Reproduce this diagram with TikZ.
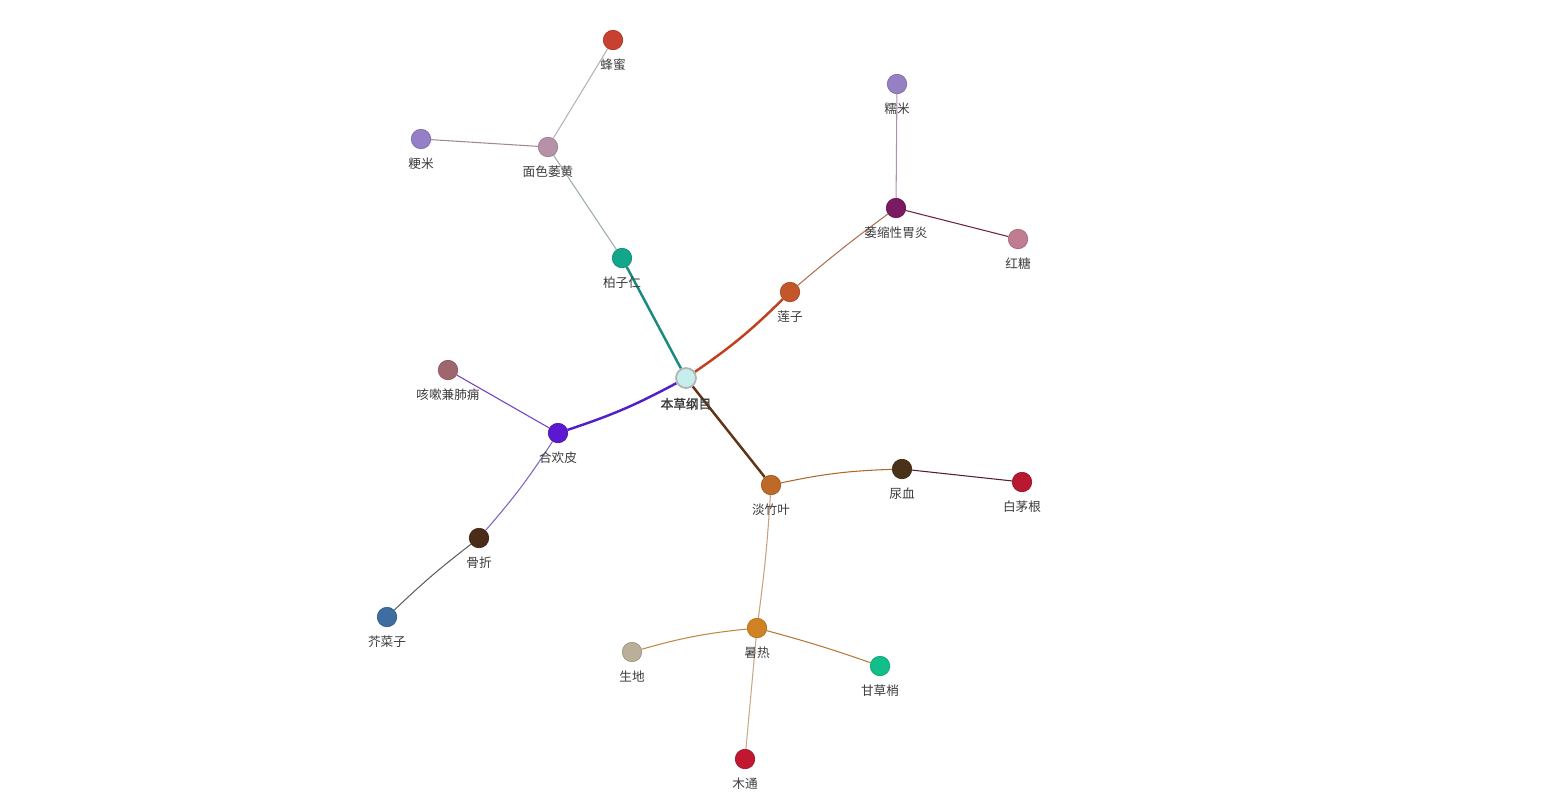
\documentclass[tikz,border=0pt]{standalone}
\usepackage{fontspec}
\newfontfamily\cjk[AutoFakeBold=1.5]{Noto Sans CJK SC}
\usetikzlibrary{positioning, backgrounds}
\definecolor{labelgray}{RGB}{60,60,60}
\definecolor{bencao}{RGB}{198,238,236}
\definecolor{baiziren}{RGB}{18,166,138}
\definecolor{mianse}{RGB}{181,146,168}
\definecolor{fengmi}{RGB}{200,64,48}
\definecolor{jingmi}{RGB}{149,128,200}
\definecolor{lianzi}{RGB}{196,87,42}
\definecolor{weisuo}{RGB}{122,26,96}
\definecolor{nuomi}{RGB}{149,128,196}
\definecolor{hongtang}{RGB}{192,124,144}
\definecolor{hehuanpi}{RGB}{92,24,208}
\definecolor{kesou}{RGB}{160,102,112}
\definecolor{guzhe}{RGB}{74,44,24}
\definecolor{jiecaizi}{RGB}{62,110,160}
\definecolor{danzhuye}{RGB}{189,106,40}
\definecolor{niaoxue}{RGB}{74,50,24}
\definecolor{baimaogen}{RGB}{184,24,48}
\definecolor{shure}{RGB}{208,130,36}
\definecolor{shengdi}{RGB}{186,176,154}
\definecolor{gancaoshao}{RGB}{18,190,138}
\definecolor{mutong}{RGB}{192,24,48}

\begin{document}
\begin{tikzpicture}[x=0.02cm, y=-0.02cm,
  herb/.style={circle, draw=#1!85!black, fill=#1, line width=0.4pt, minimum size=0.39cm, inner sep=0pt},
  lbl/.style={font=\cjk\fontsize{7.2}{8}\selectfont, text=labelgray, inner sep=0pt, label distance=5pt},
  link/.style={line width=0.6pt},
  trunk/.style={line width=1.4pt}]
  \useasboundingbox (0,0) rectangle (1545,802);

  % root
  \node[circle, draw=gray!60, fill=bencao, line width=1pt, minimum size=0.4cm, inner sep=0pt,
    label={[lbl, font=\cjk\fontsize{7.2}{8}\selectfont\bfseries]below:本草纲目}] (bencao) at (686,378) {};

  % upper left branch
  \node[herb=baiziren, label={[lbl]below:柏子仁}] (baiziren) at (622,258) {};
  \node[herb=mianse, label={[lbl]below:面色萎黄}] (mianse) at (548,147) {};
  \node[herb=fengmi, label={[lbl]below:蜂蜜}] (fengmi) at (613,40) {};
  \node[herb=jingmi, label={[lbl]below:粳米}] (jingmi) at (421,139) {};

  % upper right branch
  \node[herb=lianzi, label={[lbl]below:莲子}] (lianzi) at (790,292) {};
  \node[herb=weisuo, label={[lbl]below:萎缩性胃炎}] (weisuo) at (896,208) {};
  \node[herb=nuomi, label={[lbl]below:糯米}] (nuomi) at (897,84) {};
  \node[herb=hongtang, label={[lbl]below:红糖}] (hongtang) at (1018,239) {};

  % left branch
  \node[herb=hehuanpi, label={[lbl]below:合欢皮}] (hehuanpi) at (558,433) {};
  \node[herb=kesou, label={[lbl]below:咳嗽兼肺痈}] (kesou) at (448,370) {};
  \node[herb=guzhe, label={[lbl]below:骨折}] (guzhe) at (479,538) {};
  \node[herb=jiecaizi, label={[lbl]below:芥菜子}] (jiecaizi) at (387,617) {};

  % lower branch
  \node[herb=danzhuye, label={[lbl]below:淡竹叶}] (danzhuye) at (771,485) {};
  \node[herb=niaoxue, label={[lbl]below:尿血}] (niaoxue) at (902,469) {};
  \node[herb=baimaogen, label={[lbl]below:白茅根}] (baimaogen) at (1022,482) {};
  \node[herb=shure, label={[lbl]below:暑热}] (shure) at (757,628) {};
  \node[herb=shengdi, label={[lbl]below:生地}] (shengdi) at (632,652) {};
  \node[herb=gancaoshao, label={[lbl]below:甘草梢}] (gancaoshao) at (880,666) {};
  \node[herb=mutong, label={[lbl]below:木通}] (mutong) at (745,759) {};

  \begin{scope}[on background layer]
    \draw[trunk, color={rgb,255:red,26;green,138;blue,128}] (bencao) -- (baiziren);
    \draw[trunk, color={rgb,255:red,192;green,64;blue,32}] (bencao) to[bend right=5] (lianzi);
    \draw[trunk, color={rgb,255:red,80;green,32;blue,200}] (bencao) to[bend left=5] (hehuanpi);
    \draw[trunk, color={rgb,255:red,96;green,52;blue,20}] (bencao) -- (danzhuye);

    \draw[link, color={rgb,255:red,154;green,172;blue,176}] (baiziren) -- (mianse);
    \draw[link, color={rgb,255:red,184;green,176;blue,184}] (mianse) -- (fengmi);
    \draw[link, color={rgb,255:red,160;green,136;blue,144}] (mianse) -- (jingmi);

    \draw[link, color={rgb,255:red,176;green,112;blue,80}] (lianzi) to[bend left=2] (weisuo);
    \draw[link, color={rgb,255:red,176;green,144;blue,176}] (weisuo) -- (nuomi);
    \draw[link, color={rgb,255:red,112;green,32;blue,64}] (weisuo) -- (hongtang);

    \draw[link, color={rgb,255:red,112;green,64;blue,192}] (hehuanpi) -- (kesou);
    \draw[link, color={rgb,255:red,128;green,96;blue,192}] (hehuanpi) to[bend left=4] (guzhe);
    \draw[link, color={rgb,255:red,96;green,96;blue,96}] (guzhe) to[bend right=3] (jiecaizi);

    \draw[link, color={rgb,255:red,176;green,104;blue,40}] (danzhuye) to[bend left=5] (niaoxue);
    \draw[link, color={rgb,255:red,80;green,32;blue,40}] (niaoxue) -- (baimaogen);
    \draw[link, color={rgb,255:red,200;green,160;blue,128}] (danzhuye) to[bend left=2] (shure);
    \draw[link, color={rgb,255:red,192;green,136;blue,64}] (shure) to[bend right=5] (shengdi);
    \draw[link, color={rgb,255:red,184;green,120;blue,56}] (shure) to[bend left=2] (gancaoshao);
    \draw[link, color={rgb,255:red,200;green,168;blue,136}] (shure) -- (mutong);
  \end{scope}
\end{tikzpicture}
\end{document}
